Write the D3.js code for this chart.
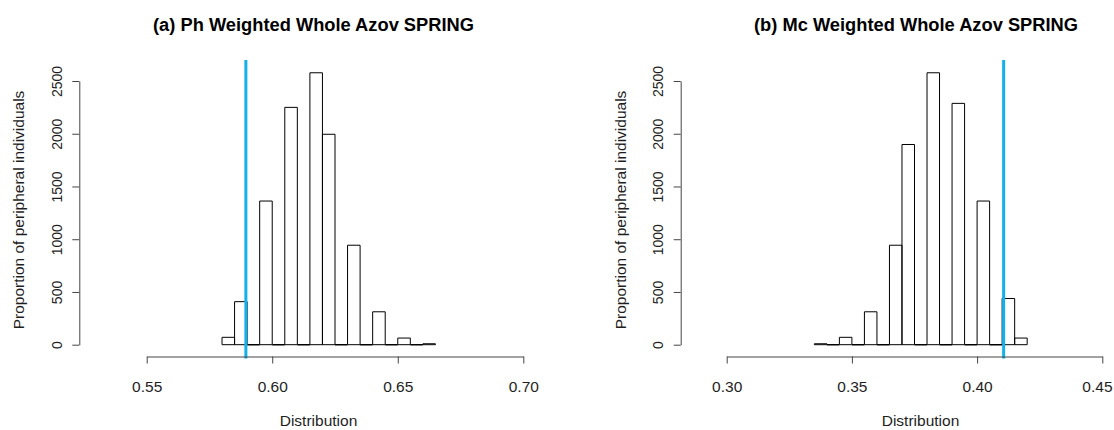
<!DOCTYPE html>
<html>
<head>
<meta charset="utf-8">
<script src="https://cdn.jsdelivr.net/npm/d3@7"></script>
<style>
  body { margin: 0; background: #fff; }
  svg { display: block; font-family: "Liberation Sans", Arial, sans-serif; }
</style>
</head>
<body>
<svg id="chart" width="1114" height="430"></svg>
<script>
// ---- Data ----
const phBinEdges = [0.580, 0.585, 0.590, 0.595, 0.600, 0.605, 0.610, 0.615, 0.620,
                    0.625, 0.630, 0.635, 0.640, 0.645, 0.650, 0.655, 0.660, 0.665];
const phCounts   = [70, 408, 0, 1362, 0, 2250, 0, 2578, 1995, 0, 943, 0, 312, 0, 63, 0, 9];
const phObserved = 0.5895;

const mcBinEdges = [0.335, 0.340, 0.345, 0.350, 0.355, 0.360, 0.365, 0.370, 0.375,
                    0.380, 0.385, 0.390, 0.395, 0.400, 0.405, 0.410, 0.415, 0.420];
const mcCounts   = [9, 0, 70, 0, 312, 0, 943, 1898, 0, 2578, 0, 2288, 0, 1362, 0, 438, 63];
const mcObserved = 0.4106;

const phXTicks = [0.55, 0.60, 0.65, 0.70];
const mcXTicks = [0.30, 0.35, 0.40, 0.45];
const yTicks   = [0, 500, 1000, 1500, 2000, 2500];

const titles = ["(a) Ph Weighted Whole Azov SPRING", "(b) Mc Weighted Whole Azov SPRING"];
const xLabel = "Distribution";
const yLabel = "Proportion of peripheral individuals";

// ---- Drawing ----
const svg = d3.select("#chart");
svg.append("rect").attr("width", 1114).attr("height", 430).attr("fill", "#fff");

const AXIS_COLOR = "#444";
const TEXT_COLOR = "#1e1e1e";
const LINE_COLOR = "#12b0ec";
const W = 1114;

function drawPanel(cfg) {
  const x = d3.scaleLinear().domain([cfg.xTicks[0], cfg.xTicks[cfg.xTicks.length - 1]]).range(cfg.xRange);
  const y = d3.scaleLinear().domain([0, 2500]).range([344.7, 81]);
  const g = svg.append("g");

  const bins = cfg.counts.map((c, i) => ({ x0: cfg.edges[i], x1: cfg.edges[i + 1], c }));
  g.selectAll("path.bar").data(bins).join("path")
    .attr("class", "bar")
    .attr("d", d => {
      const l = x(d.x0), r = x(d.x1), t = y(d.c), b = y(0);
      return `M${l},${b}V${t}H${r}V${b}Z`;
    })
    .attr("fill", "none")
    .attr("stroke", "#000")
    .attr("stroke-width", d => d.c === 0 ? 1.4 : 1);

  // observed value line
  g.append("line")
    .attr("x1", x(cfg.observed)).attr("x2", x(cfg.observed))
    .attr("y1", cfg.plotTop).attr("y2", 358.5)
    .attr("stroke", LINE_COLOR).attr("stroke-width", 3);

  // x axis
  const xa = g.append("g").attr("transform", "translate(0,356.5)")
    .call(d3.axisBottom(x).tickValues(cfg.xTicks).tickFormat(d3.format(".2f")).tickSize(7).tickSizeOuter(0));
  xa.attr("font-size", null).attr("font-family", null);
  xa.select(".domain").attr("stroke", AXIS_COLOR);
  xa.selectAll(".tick line").attr("stroke", AXIS_COLOR);
  xa.selectAll(".tick text").attr("y", 35.2).attr("dy", null)
    .attr("font-size", "15.5px").attr("fill", TEXT_COLOR)
    .each(function(d) {
      // keep labels inside the picture, as the reference does
      const px = x(d);
      const w = this.getComputedTextLength();
      if (px + w / 2 > W - 2) {
        d3.select(this).attr("text-anchor", "end").attr("x", W - 2 - px);
      }
    });

  // y axis
  const ya = g.append("g").attr("transform", `translate(${cfg.yAxisX},0)`)
    .call(d3.axisLeft(y).tickValues(yTicks).tickFormat(d3.format("d")).tickSize(7).tickSizeOuter(0));
  ya.attr("font-size", null).attr("font-family", null);
  ya.select(".domain").attr("stroke", AXIS_COLOR);
  ya.selectAll(".tick line").attr("stroke", AXIS_COLOR);
  ya.selectAll(".tick text")
    .attr("x", 0).attr("y", 0).attr("dy", null)
    .attr("text-anchor", "middle")
    .attr("transform", "translate(-17.3,0) rotate(-90)")
    .attr("font-size", "14px").attr("fill", TEXT_COLOR);

  // titles
  g.append("text").attr("x", cfg.titleX).attr("y", 31)
    .attr("text-anchor", "middle").attr("font-weight", "bold")
    .attr("font-size", "18.3px").attr("fill", "#000").text(cfg.title);
  g.append("text").attr("x", cfg.xlabX).attr("y", 425.5)
    .attr("text-anchor", "middle").attr("font-size", "15.5px").attr("fill", TEXT_COLOR).text(xLabel);
  g.append("text").attr("transform", `translate(${cfg.yAxisX - 55},210) rotate(-90)`)
    .attr("text-anchor", "middle").attr("font-size", "15.5px").attr("fill", TEXT_COLOR).text(yLabel);
}

drawPanel({
  edges: phBinEdges, counts: phCounts, observed: phObserved, xTicks: phXTicks,
  xRange: [146.7, 523.3], yAxisX: 79.3, plotTop: 60,
  titleX: 313.5, xlabX: 318.5, title: titles[0]
});
drawPanel({
  edges: mcBinEdges, counts: mcCounts, observed: mcObserved, xTicks: mcXTicks,
  xRange: [726.7, 1102.3], yAxisX: 680.7, plotTop: 60,
  titleX: 916, xlabX: 920.5, title: titles[1]
});
</script>
</body>
</html>
